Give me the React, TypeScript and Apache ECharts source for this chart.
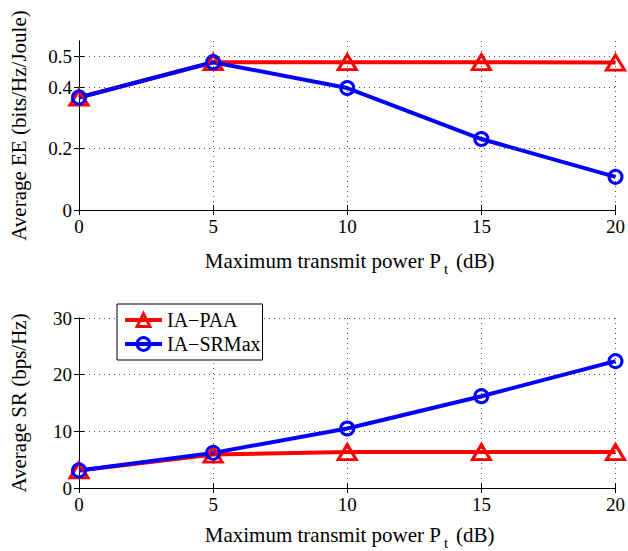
import React, { useEffect, useRef } from 'react';
import * as echarts from 'echarts';

const powerDb = [0, 5, 10, 15, 20];
const eePAA = [0.366, 0.481, 0.481, 0.481, 0.48];
const eeSRMax = [0.366, 0.481, 0.397, 0.231, 0.108];
const srPAA = [3.1, 5.9, 6.35, 6.35, 6.35];
const srSRMax = [3.1, 6.2, 10.5, 16.2, 22.4];
const eeTicks = [0, 0.2, 0.4, 0.5];
const seriesNames = ['IA−PAA', 'IA−SRMax'];
const yTitles = ['Average EE (bits/Hz/Joule)', 'Average SR (bps/Hz)'];
const xTitleMain = 'Maximum transmit power P';
const xTitleSub = 't';
const xTitleUnit = '(dB)';

const FONT = 'Liberation Serif';
const RED = '#ff0000';
const BLUE = '#0000ff';
const GRID_LINE = { color: '#555', type: [1, 4] as any, width: 1 };

export default function App() {
  const ref = useRef<HTMLDivElement>(null);
  useEffect(() => {
    if (!ref.current) return;
    const chart = echarts.init(ref.current, undefined, { renderer: 'svg' });

    const mainX = (gi: number) => ({
      type: 'value', gridIndex: gi, min: 0, max: 20, interval: 5,
      axisLine: { show: true, lineStyle: { color: '#000', width: 1 } },
      axisTick: { show: true, inside: true, length: 5, lineStyle: { color: '#000' } },
      axisLabel: { color: '#000', fontFamily: FONT, fontSize: 19, margin: 7 },
      splitLine: { show: true, lineStyle: GRID_LINE },
    });
    const topX = (gi: number) => ({
      type: 'value', gridIndex: gi, position: 'top', min: 0, max: 20, interval: 5,
      axisLine: { show: true, lineStyle: { color: '#000', width: 1 } },
      axisTick: { show: true, inside: true, length: 5, lineStyle: { color: '#000' } },
      axisLabel: { show: false },
      splitLine: { show: false },
    });

    const symbolStyle = (color: string) => ({ color: 'transparent', borderColor: color, borderWidth: 3 });

    const makeSeries = (name: string, data: number[], xi: number, yi: number, color: string, symbol: string, size: any) => ({
      name, type: 'line', xAxisIndex: xi, yAxisIndex: yi,
      data: powerDb.map((x, i) => [x, data[i]]),
      symbol, symbolSize: size, showAllSymbol: true,
      lineStyle: { color, width: 4 },
      itemStyle: symbolStyle(color),
      z: 3,
    });

    const option: any = {
      animation: false,
      backgroundColor: '#fff',
      textStyle: { fontFamily: FONT },
      grid: [
        { left: 77, right: 11, top: 41, height: 169 },
        { left: 77, right: 11, top: 318, height: 170 },
      ],
      xAxis: [mainX(0), topX(0), mainX(1), topX(1)],
      yAxis: [
        {
          type: 'value', gridIndex: 0, min: 0, max: 0.55, interval: 0.1,
          name: yTitles[0], nameLocation: 'middle', nameGap: 50,
          nameTextStyle: { color: '#000', fontFamily: FONT, fontSize: 21 },
          axisLine: { show: true, lineStyle: { color: '#000', width: 1 } },
          axisTick: { show: true, inside: true, length: 5, customValues: eeTicks, lineStyle: { color: '#000' } },
          axisLabel: { color: '#000', fontFamily: FONT, fontSize: 19, margin: 7, customValues: eeTicks },
          splitLine: { show: false },
        },
        {
          type: 'value', gridIndex: 0, position: 'right', min: 0, max: 0.55, interval: 0.1,
          axisLine: { show: true, lineStyle: { color: '#000', width: 1 } },
          axisTick: { show: true, inside: true, length: 5, customValues: eeTicks, lineStyle: { color: '#000' } },
          axisLabel: { show: false },
          splitLine: { show: false },
        },
        {
          type: 'value', gridIndex: 1, min: 0, max: 30, interval: 10,
          name: yTitles[1], nameLocation: 'middle', nameGap: 50,
          nameTextStyle: { color: '#000', fontFamily: FONT, fontSize: 21 },
          axisLine: { show: true, lineStyle: { color: '#000', width: 1 } },
          axisTick: { show: true, inside: true, length: 5, lineStyle: { color: '#000' } },
          axisLabel: { color: '#000', fontFamily: FONT, fontSize: 19, margin: 7 },
          splitLine: { show: true, lineStyle: GRID_LINE },
        },
        {
          type: 'value', gridIndex: 1, position: 'right', min: 0, max: 30, interval: 10,
          axisLine: { show: true, lineStyle: { color: '#000', width: 1 } },
          axisTick: { show: true, inside: true, length: 5, lineStyle: { color: '#000' } },
          axisLabel: { show: false },
          splitLine: { show: false },
        },
      ],
      legend: {
        data: seriesNames,
        orient: 'vertical',
        left: 117, top: 304,
        backgroundColor: '#fff',
        borderColor: '#000', borderWidth: 1, borderRadius: 0,
        padding: [6, 2, 6, 6],
        itemGap: 4,
        itemWidth: 37, itemHeight: 16,
        textStyle: { color: '#000', fontFamily: FONT, fontSize: 20 },
        lineStyle: { width: 4 },
        itemStyle: { borderWidth: 3 },
        z: 10,
      },
      graphic: [0, 1].flatMap((gi) => {
        const y = gi === 0 ? 261 : 535;
        return [
          { type: 'text', x: 441, y, style: { text: xTitleMain, font: `21px "${FONT}"`, fill: '#000', textAlign: 'right', textVerticalAlign: 'middle' } },
          { type: 'text', x: 444, y: y + 8, style: { text: xTitleSub, font: `15px "${FONT}"`, fill: '#000', textAlign: 'left', textVerticalAlign: 'middle' } },
          { type: 'text', x: 456, y, style: { text: xTitleUnit, font: `21px "${FONT}"`, fill: '#000', textAlign: 'left', textVerticalAlign: 'middle' } },
        ];
      }),
      series: [
        {
          name: 'eeGrid', type: 'line', xAxisIndex: 0, yAxisIndex: 0, data: [], silent: true, z: 1,
          markLine: {
            silent: true, symbol: ['none', 'none'], label: { show: false },
            lineStyle: GRID_LINE,
            data: eeTicks.filter((v) => v > 0).map((v) => ({ yAxis: v })),
          },
        },
        makeSeries(seriesNames[0], eePAA, 0, 0, RED, 'triangle', [18, 15]),
        makeSeries(seriesNames[1], eeSRMax, 0, 0, BLUE, 'circle', 13),
        makeSeries(seriesNames[0], srPAA, 2, 2, RED, 'triangle', [18, 15]),
        makeSeries(seriesNames[1], srSRMax, 2, 2, BLUE, 'circle', 13),
      ],
    };
    chart.setOption(option);
    return () => chart.dispose();
  }, []);
  return <div ref={ref} style={{ width: 628, height: 551, position: 'absolute', left: 0, top: 0 }} />;
}
